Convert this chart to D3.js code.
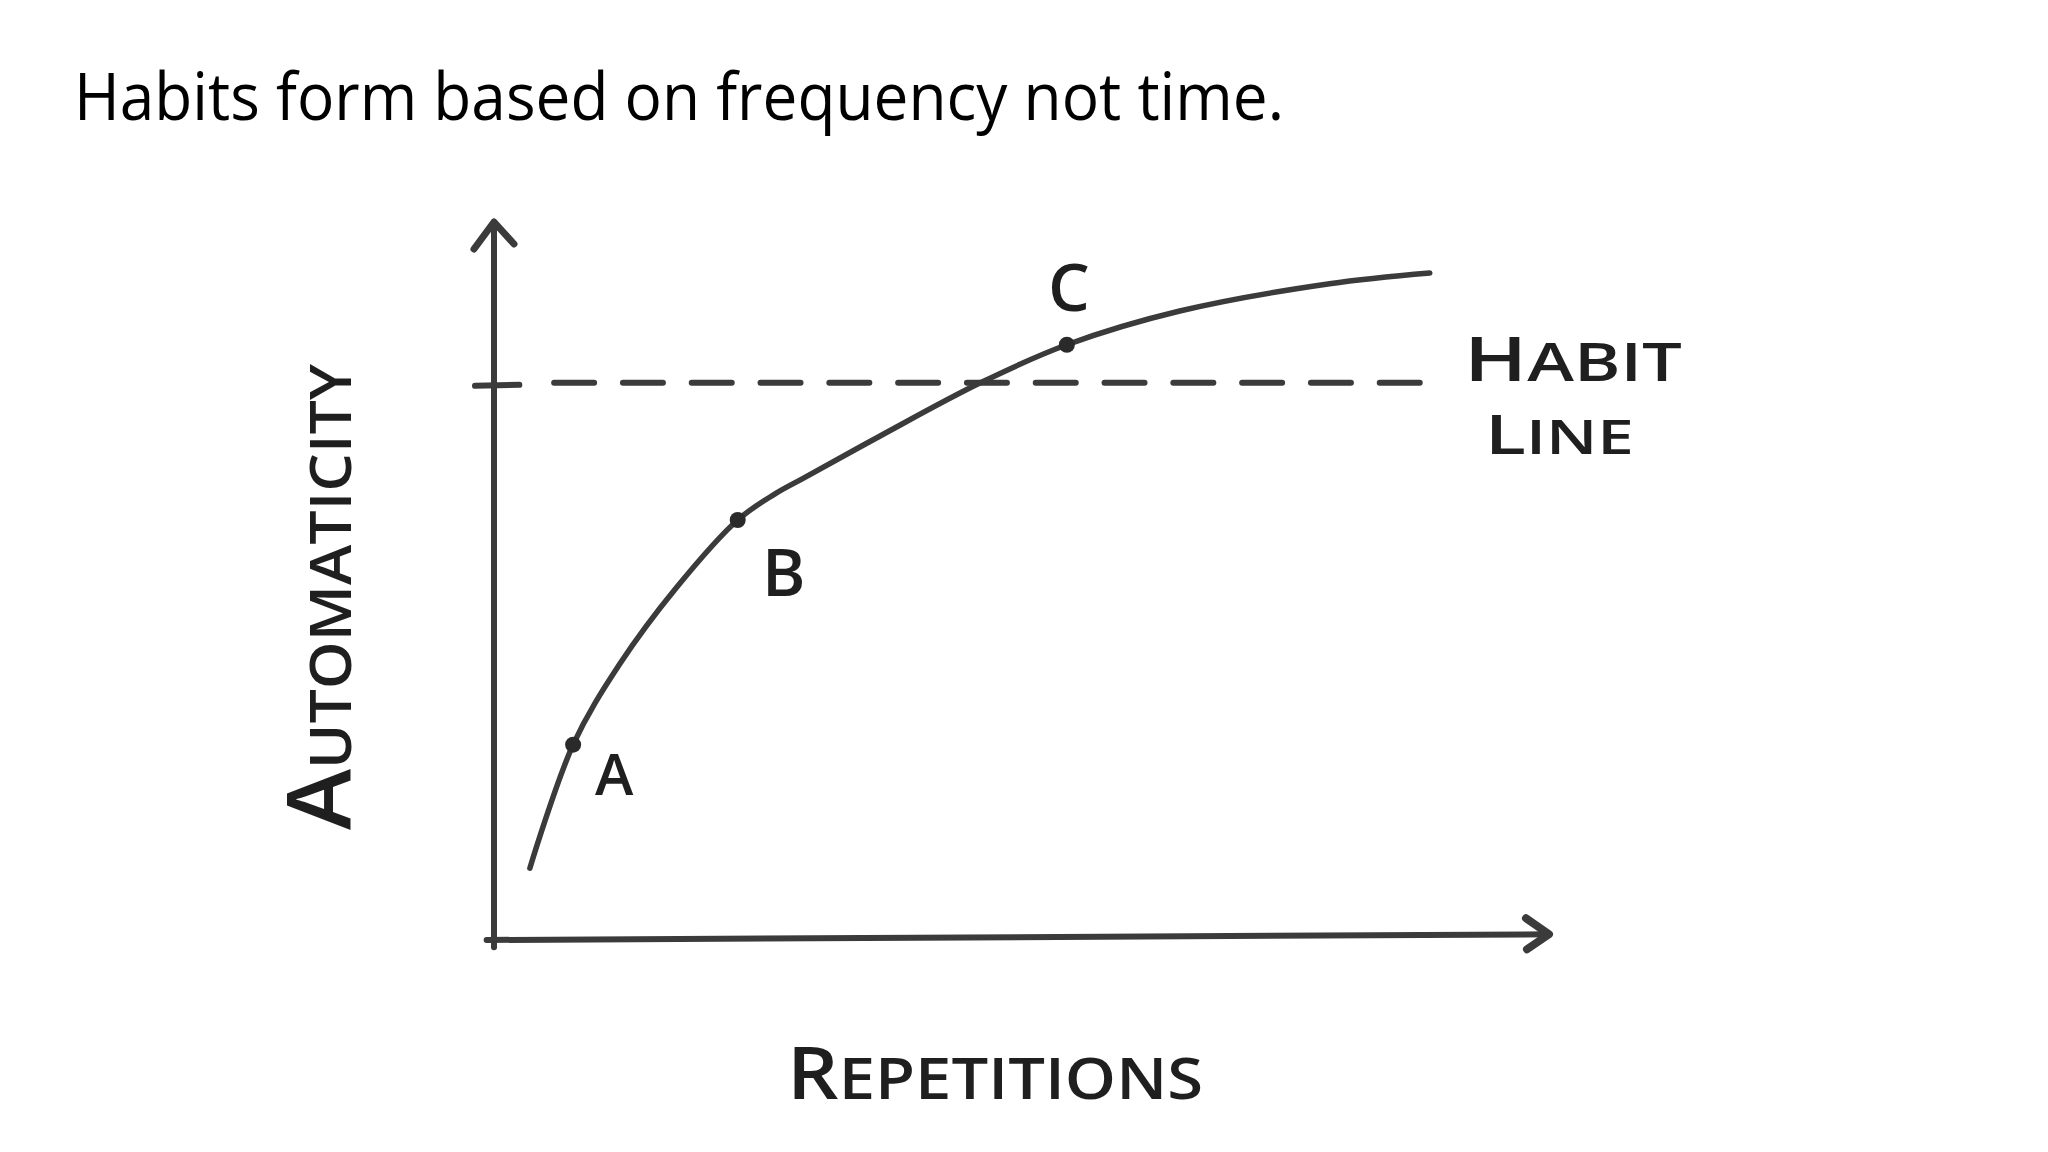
<!DOCTYPE html>
<html>
<head>
<meta charset="utf-8">
<script src="https://cdn.jsdelivr.net/npm/d3@7"></script>
<style>
  body { margin: 0; background: #fff; }
  svg { display: block; }
</style>
</head>
<body>
<svg width="2048" height="1152"></svg>
<script>
var svg = d3.select("svg"),
    width = +svg.attr("width"),
    height = +svg.attr("height");

// repetitions (x) vs automaticity (y), both 0-100
var reps = [3.4, 7.5, 11.9, 17.3, 23.1, 26.6, 29.3, 36.6, 46.1, 54.3, 65.0, 79.2, 88.7];
var autom = [10.0, 27.2, 38.4, 49.1, 58.5, 62.1, 64.3, 70.2, 77.6, 82.9, 87.6, 91.4, 92.9];
var milestones = ["A", "B", "C"];
var milestoneIdx = [1, 4, 9];
var habitLevel = 77.6;
var habitSpan = [5.7, 87.8];

var ink = "#3b3b3b",
    textInk = "#1f1f1f",
    hand = "'Open Sans', 'DejaVu Sans', sans-serif";

var x = d3.scaleLinear().domain([0, 100]).range([494, 1549]);
var y = d3.scaleLinear().domain([0, 100]).range([940, 222]);

svg.append("rect")
    .attr("width", width)
    .attr("height", height)
    .attr("fill", "#fff");

svg.append("text")
    .attr("x", 74)
    .attr("y", 120)
    .attr("font-family", "'Open Sans', sans-serif")
    .attr("font-size", 66)
    .attr("textLength", 1210)
    .attr("lengthAdjust", "spacingAndGlyphs")
    .attr("fill", "#000")
    .text("Habits form based on frequency not time.");

var g = svg.append("g")
    .attr("fill", "none")
    .attr("stroke", ink)
    .attr("stroke-linecap", "round")
    .attr("stroke-linejoin", "round");

// axes with hand-drawn style arrows
g.append("line")
    .attr("x1", x(0)).attr("y1", y(-1))
    .attr("x2", x(0)).attr("y2", y(100))
    .attr("stroke-width", 6);

g.append("path")
    .attr("d", d3.line()([[x(0) - 20, y(100) + 27], [x(0), y(100)], [x(0) + 20, y(100) + 22]]))
    .attr("stroke-width", 7);

g.append("line")
    .attr("x1", x(-0.7)).attr("y1", y(0))
    .attr("x2", x(100)).attr("y2", y(0.8))
    .attr("stroke-width", 6);

g.append("path")
    .attr("d", d3.line()([[x(100) - 23, y(0.8) - 16], [x(100), y(0.8)], [x(100) - 22, y(0.8) + 15]]))
    .attr("stroke-width", 8);

// habit line tick and dashes
g.append("line")
    .attr("x1", x(-1.8)).attr("y1", y(habitLevel) + 3)
    .attr("x2", x(2.4)).attr("y2", y(habitLevel) + 2)
    .attr("stroke-width", 6);

g.append("line")
    .attr("x1", x(habitSpan[0])).attr("y1", y(habitLevel))
    .attr("x2", x(habitSpan[1])).attr("y2", y(habitLevel))
    .attr("stroke-width", 6)
    .attr("stroke-dasharray", "40 28.8");

// the curve
var pts = reps.map(function(d, i) { return [x(d), y(autom[i])]; });

g.append("path")
    .attr("d", d3.line().curve(d3.curveCatmullRom.alpha(0.5))(pts))
    .attr("stroke-width", 5.5);

svg.selectAll(".dot")
  .data(milestoneIdx)
  .enter().append("circle")
    .attr("class", "dot")
    .attr("cx", function(d) { return x(reps[d]); })
    .attr("cy", function(d) { return y(autom[d]); })
    .attr("r", 8)
    .attr("fill", "#2a2a2a");

var labelOffset = [[41, 50], [46, 76], [2, -34]];
var labelSize = [58, 66, 66];

svg.selectAll(".ms")
  .data(milestones)
  .enter().append("text")
    .attr("class", "ms")
    .attr("x", function(d, i) { return x(reps[milestoneIdx[i]]) + labelOffset[i][0]; })
    .attr("y", function(d, i) { return y(autom[milestoneIdx[i]]) + labelOffset[i][1]; })
    .attr("text-anchor", "middle")
    .attr("font-family", hand)
    .attr("font-weight", 600)
    .attr("font-size", function(d, i) { return labelSize[i]; })
    .attr("fill", textInk)
    .text(function(d) { return d; });

// hand-lettered labels with a big first letter
function bigFirst(sel, word, big, small) {
  sel.append("tspan").attr("font-size", big).text(word.charAt(0));
  sel.append("tspan").attr("font-size", small).text(word.slice(1));
}

var yLab = svg.append("text")
    .attr("transform", "translate(351,830) rotate(-90)")
    .attr("font-family", hand)
    .attr("font-weight", 600)
    .attr("fill", textInk)
    .attr("textLength", 466)
    .attr("lengthAdjust", "spacingAndGlyphs");
bigFirst(yLab, "AUTOMATICITY", 88, 58);

var xLab = svg.append("text")
    .attr("x", 787)
    .attr("y", 1099)
    .attr("font-family", hand)
    .attr("font-weight", 600)
    .attr("fill", textInk)
    .attr("textLength", 416)
    .attr("lengthAdjust", "spacingAndGlyphs");
bigFirst(xLab, "REPETITIONS", 72, 58);

var hab = svg.append("text")
    .attr("x", 1464)
    .attr("y", 381)
    .attr("font-family", hand)
    .attr("font-weight", 600)
    .attr("fill", textInk)
    .attr("textLength", 218)
    .attr("lengthAdjust", "spacingAndGlyphs");
bigFirst(hab, "HABIT", 62, 52);

var lin = svg.append("text")
    .attr("x", 1485)
    .attr("y", 454)
    .attr("font-family", hand)
    .attr("font-weight", 600)
    .attr("fill", textInk)
    .attr("textLength", 149)
    .attr("lengthAdjust", "spacingAndGlyphs");
bigFirst(lin, "LINE", 54, 47);
</script>
</body>
</html>
